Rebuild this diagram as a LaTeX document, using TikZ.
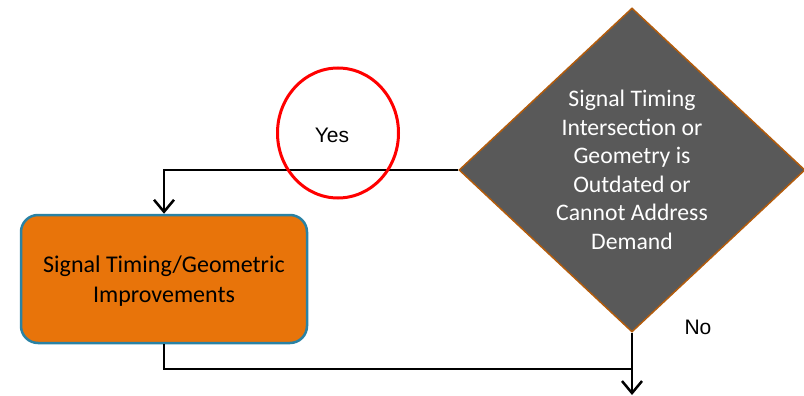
\documentclass[tikz,border=0pt]{standalone}
\usepackage{fontspec}
\setmainfont{Carlito}
\newfontfamily\labelfont{Liberation Sans}
\usetikzlibrary{shapes.geometric,arrows.meta}

\definecolor{decisiongray}{HTML}{595959}
\definecolor{decisionedge}{HTML}{B35C0C}
\definecolor{actionorange}{HTML}{E8740A}
\definecolor{actionedge}{HTML}{2A82A4}

\tikzset{
  flowline/.style={line width=2.5pt, black},
  flowarrow/.style={flowline, -{Straight Barb[length=12pt,width=20pt,line width=2.5pt]}},
  decision/.style={diamond, draw=decisionedge, line width=1.5pt, fill=decisiongray,
    minimum width=346pt, minimum height=324pt, inner sep=0pt},
  decisiontext/.style={text=white, align=center,
    font=\fontsize{23.7}{28.5}\selectfont},
  action/.style={rectangle, rounded corners=17pt, draw=actionedge, line width=2.5pt,
    fill=actionorange, minimum width=286pt, minimum height=128pt},
  actiontext/.style={align=center, font=\fontsize{24}{30}\selectfont},
  answer/.style={font=\labelfont\fontsize{21}{25}\selectfont},
  highlight/.style={ellipse, draw=red, line width=3pt, minimum width=121pt,
    minimum height=130pt, inner sep=0pt}
}

\begin{document}
\begin{tikzpicture}[x=1pt, y=-1pt]
  \useasboundingbox (0,0) rectangle (804,396);

  % decision diamond and its question
  \node[decision] (q) at (632,170) {};
  \node[decisiontext] (qtext) at (q.center) {Signal Timing\\Intersection or\\Geometry is\\Outdated or\\Cannot Address\\Demand};

  % improvement box
  \node[action] (box) at (164,279) {};
  \node[actiontext] (boxtext) at (164,281) {Signal Timing/Geometric\\Improvements};

  % connectors
  \coordinate (merge) at (632,369);
  \coordinate (exit) at (632,395);
  \draw[flowarrow] (q.west) -| (box.north);
  \draw[flowline] (box.south) |- (merge);
  \draw[flowarrow] (q.south) -- (exit);

  % branch labels
  \node[answer] (yes) at (332,135) {Yes};
  \node[highlight] (yesring) at (338,133) {};
  \node[answer] (no) at (698,327) {No};
\end{tikzpicture}
\end{document}
